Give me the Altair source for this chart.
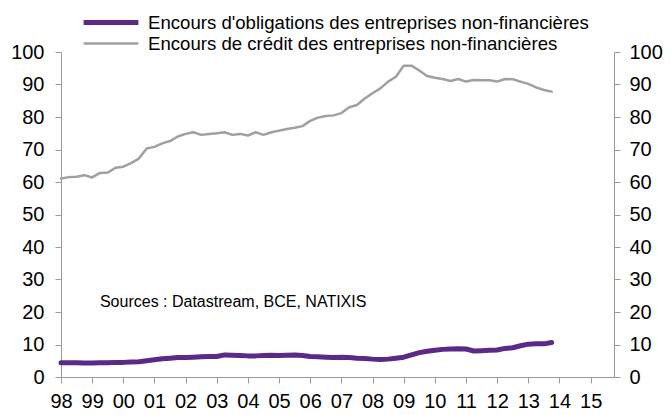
import altair as alt
import pandas as pd

# Quarterly values, Q1 1998 .. Q4 2013 (% of GDP)
bonds = [4.4, 4.4, 4.4, 4.3,
         4.3, 4.4, 4.4, 4.5,
         4.5, 4.6, 4.7, 5.0,
         5.3, 5.6, 5.8, 6.0,
         6.0, 6.1, 6.2, 6.3,
         6.3, 6.8, 6.7, 6.6,
         6.5, 6.5, 6.6, 6.7,
         6.6, 6.7, 6.8, 6.6,
         6.3, 6.2, 6.1, 6.0,
         6.1, 6.0, 5.8, 5.7,
         5.5, 5.4, 5.5, 5.8,
         6.1, 6.8, 7.5, 7.9,
         8.2, 8.5, 8.6, 8.7,
         8.6, 8.0, 8.1, 8.2,
         8.3, 8.8, 9.0, 9.6,
         10.1, 10.2, 10.2, 10.6]

credit = [61.1, 61.5, 61.6, 62.1,
          61.4, 62.8, 62.9, 64.4,
          64.7, 65.8, 67.2, 70.3,
          70.8, 71.9, 72.6, 74.0,
          74.8, 75.3, 74.5, 74.8,
          75.0, 75.3, 74.5, 74.8,
          74.3, 75.3, 74.5, 75.3,
          75.8, 76.3, 76.7, 77.2,
          78.8, 79.8, 80.3, 80.5,
          81.2, 83.0, 83.7, 85.7,
          87.3, 88.8, 90.9, 92.4,
          95.8, 95.8, 94.3, 92.6,
          92.1, 91.7, 91.1, 91.7,
          90.9, 91.4, 91.3, 91.3,
          90.9, 91.7, 91.6, 90.9,
          90.2, 89.1, 88.3, 87.8]

names = ["Encours d'obligations des entreprises non-financières",
         "Encours de crédit des entreprises non-financières"]
colors = ["#5B2A86", "#A0A0A0"]
widths = [5, 2.5]

year_ticks = list(range(1998, 2016))
y_ticks = list(range(0, 101, 10))

n = len(bonds)
t = [1998 + i / 4 for i in range(n)]
df = pd.DataFrame({
    "t": t + t,
    "v": bonds + credit,
    "s": [names[0]] * n + [names[1]] * n,
})

note = pd.DataFrame({"t": [1999.25], "v": [23], "txt": ["Sources : Datastream, BCE, NATIXIS"]})

FONT = "Liberation Sans"
AX = "#9A9A9A"

xscale = alt.Scale(domain=[1998, 2015.75], nice=False, zero=False)
xenc = alt.X("t:Q", scale=xscale,
             axis=alt.Axis(values=year_ticks, labelExpr="substring(toString(datum.value), 2, 4)",
                           title=None, grid=False, domainColor=AX, tickColor=AX, tickSize=6,
                           labelFontSize=20, labelFont=FONT, labelColor="#000000",
                           labelPadding=8, labelFlush=False, labelOverlap=False))

yscale = alt.Scale(domain=[0, 100], nice=False)

def yaxis(orient, pad):
    return alt.Axis(orient=orient, values=y_ticks, title=None, grid=False, domainColor=AX,
                    tickColor=AX, tickSize=6, labelFontSize=20, labelFont=FONT,
                    labelColor="#000000", labelPadding=pad, labelFlush=False)

lines = alt.Chart(df).mark_line(strokeCap="round", strokeJoin="round").encode(
    x=xenc,
    y=alt.Y("v:Q", scale=yscale, axis=yaxis("left", 11)),
    color=alt.Color("s:N", scale=alt.Scale(domain=names, range=colors),
                    sort=names,
                    legend=alt.Legend(orient="none", legendX=20, legendY=-40, title=None,
                                      symbolType="stroke", symbolSize=3000, clipHeight=21,
                                      labelFontSize=18.6, labelFont=FONT, labelColor="#000000",
                                      labelOffset=7, labelLimit=0, rowPadding=0, padding=0)),
    strokeWidth=alt.StrokeWidth("s:N", scale=alt.Scale(domain=names, range=widths), sort=names),
)

right = alt.Chart(df).mark_line(opacity=0).encode(
    x=xenc,
    y=alt.Y("v:Q", scale=yscale, axis=yaxis("right", 9)),
)

txt = alt.Chart(note).mark_text(align="left", baseline="middle", fontSize=16, font=FONT,
                                color="#000000").encode(
    x=xenc, y=alt.Y("v:Q", scale=yscale, axis=None), text="txt:N")

chart = alt.layer(lines, right, txt).resolve_axis(y="independent").properties(
    width=553, height=325,
    padding={"left": 53, "top": 44, "right": 49, "bottom": 34},
    autosize=alt.AutoSizeParams(type="none"),
).configure_view(stroke=None)

chart.save("out.html", embed_options={"renderer": "svg", "actions": False})
